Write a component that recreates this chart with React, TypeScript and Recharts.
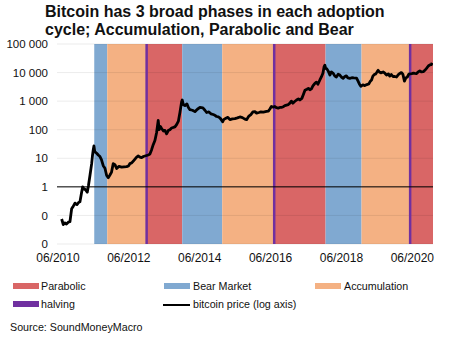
import { Line, LineChart, ReferenceArea, ReferenceLine, XAxis, YAxis } from 'recharts'

// time is in decimal years
const priceYears = [
  2010.521, 2010.544, 2010.567, 2010.614, 2010.657, 2010.708, 2010.755, 2010.803, 2010.84, 2010.897,
  2010.953, 2011.009, 2011.038, 2011.08, 2011.114, 2011.15, 2011.193, 2011.244, 2011.277, 2011.32,
  2011.368, 2011.39, 2011.413, 2011.432, 2011.455, 2011.509, 2011.554, 2011.602, 2011.644, 2011.695,
  2011.743, 2011.791, 2011.836, 2011.884, 2011.926, 2011.977, 2012.025, 2012.073, 2012.138, 2012.214,
  2012.279, 2012.355, 2012.406, 2012.448, 2012.504, 2012.561, 2012.637, 2012.682, 2012.73, 2012.778,
  2012.829, 2012.871, 2012.919, 2012.964, 2013.012, 2013.06, 2013.105, 2013.153, 2013.201, 2013.246,
  2013.272, 2013.308, 2013.342, 2013.393, 2013.435, 2013.483, 2013.534, 2013.576, 2013.624, 2013.675,
  2013.718, 2013.765, 2013.816, 2013.859, 2013.907, 2013.924, 2013.957, 2014.0, 2014.056, 2014.098,
  2014.141, 2014.211, 2014.282, 2014.352, 2014.423, 2014.507, 2014.564, 2014.612, 2014.676, 2014.733,
  2014.798, 2014.846, 2014.894, 2014.945, 2014.987, 2015.029, 2015.063, 2015.1, 2015.156, 2015.213,
  2015.269, 2015.34, 2015.41, 2015.481, 2015.551, 2015.622, 2015.692, 2015.74, 2015.805, 2015.861,
  2015.918, 2015.974, 2016.022, 2016.087, 2016.143, 2016.214, 2016.304, 2016.355, 2016.397, 2016.44,
  2016.49, 2016.538, 2016.581, 2016.631, 2016.679, 2016.735, 2016.777, 2016.821, 2016.868, 2016.919,
  2016.962, 2017.004, 2017.046, 2017.088, 2017.15, 2017.201, 2017.244, 2017.3, 2017.342, 2017.387,
  2017.443, 2017.484, 2017.526, 2017.57, 2017.611, 2017.667, 2017.709, 2017.752, 2017.808, 2017.85,
  2017.893, 2017.927, 2017.949, 2017.972, 2018.005, 2018.048, 2018.09, 2018.132, 2018.183, 2018.231,
  2018.273, 2018.324, 2018.372, 2018.414, 2018.465, 2018.513, 2018.555, 2018.597, 2018.654, 2018.71,
  2018.767, 2018.843, 2018.879, 2018.922, 2018.964, 2019.02, 2019.077, 2019.133, 2019.19, 2019.232,
  2019.266, 2019.303, 2019.345, 2019.387, 2019.43, 2019.452, 2019.486, 2019.528, 2019.593, 2019.641,
  2019.689, 2019.74, 2019.782, 2019.825, 2019.875, 2019.923, 2019.971, 2020.022, 2020.064, 2020.107,
  2020.149, 2020.194, 2020.234, 2020.276, 2020.318, 2020.355, 2020.403, 2020.445, 2020.488, 2020.53,
  2020.581, 2020.628, 2020.676, 2020.727, 2020.77, 2020.817, 2020.868, 2020.911, 2020.953, 2020.976,
]

const priceValues = [
  0.075, 0.06, 0.048, 0.055, 0.05, 0.058, 0.06, 0.17, 0.2, 0.27,
  0.24, 0.29, 0.3, 0.6, 1.0, 0.85, 0.8, 0.65, 1.1, 2.5,
  6.5, 12, 20, 27, 17, 15, 13, 11.5, 9, 5.5,
  4.5, 2.5, 2.1, 2.6, 3.2, 6.5, 6.0, 4.4, 5.2, 4.9,
  5.0, 5.1, 5.4, 6.5, 7.0, 8.5, 11, 12, 11, 10.5,
  11.5, 12, 12.5, 13, 14, 20, 30, 42, 80, 210,
  100, 130, 110, 90, 95, 72, 95, 100, 115, 120,
  125, 150, 200, 400, 950, 1100, 750, 700, 800, 600,
  500, 480, 430, 520, 600, 580, 480, 400, 420, 360,
  340, 320, 290, 280, 260, 220, 190, 230, 250, 270,
  225, 240, 245, 260, 280, 265, 235, 225, 300, 340,
  420, 430, 380, 400, 420, 415, 440, 450, 530, 650,
  620, 650, 590, 570, 600, 610, 640, 700, 730, 760,
  850, 1000, 850, 950, 1100, 1200, 1100, 1250, 1700, 2400,
  2600, 2800, 2500, 2700, 3400, 4200, 4600, 3900, 5500, 7000,
  9500, 16000, 18000, 14000, 13500, 11000, 8200, 10500, 9400, 7500,
  7000, 8800, 8200, 7000, 6300, 7300, 7700, 6500, 6300, 6600,
  6500, 6400, 5200, 4000, 3300, 3700, 3500, 3800, 4000, 5000,
  5500, 7500, 8500, 9000, 11000, 12000, 10500, 9800, 10500, 9500,
  8200, 9000, 7500, 8500, 7200, 7300, 7000, 8500, 9300, 10000,
  8800, 5000, 6500, 7000, 8800, 9000, 9200, 9500, 9300, 9200,
  10500, 11500, 10500, 10700, 12000, 14000, 17000, 18500, 19000, 22000,
]

const phaseNames = [
  'Bear Market', 'Accumulation', 'Parabolic',
  'Bear Market', 'Accumulation', 'Parabolic',
  'Bear Market', 'Accumulation', 'Parabolic',
]
const phaseStarts = [2011.441, 2011.808, 2012.919, 2013.923, 2015.052, 2016.519, 2017.969, 2018.984, 2020.355]
const phaseEnds = [2011.808, 2012.919, 2013.923, 2015.052, 2016.519, 2017.969, 2018.984, 2020.355, 2021.0]

const halvings = [2012.919, 2016.519, 2020.355]

const yTicks = [0.01, 0.1, 1, 10, 100, 1000, 10000, 100000]
const xTicks = [2010.417, 2012.417, 2014.417, 2016.417, 2018.417, 2020.417]

const phaseColors: Record<string, string> = {
  Parabolic: '#d96666',
  'Bear Market': '#80a9d1',
  Accumulation: '#f4b183',
}
const halvingColor = '#7030a0'

const data = priceYears.map((t, i) => ({ t, price: priceValues[i] }))

const font = '"Liberation Sans", Arial, sans-serif'

const fmtY = (v: number) => (v < 1 ? '0' : String(v).replace(/\B(?=(\d{3})+(?!\d))/g, ' '))
const fmtX = (v: number) => `06/${Math.floor(v)}`

function Box({ left, top, width, height, color }: { left: number; top: number; width: number; height: number; color: string }) {
  return <div style={{ position: 'absolute', left, top, width, height, background: color }} />
}

export default function App() {
  const legendText = { position: 'absolute' as const, fontSize: 10.7, lineHeight: '12px', color: '#111', whiteSpace: 'nowrap' as const }
  return (
    <div
      style={{
        position: 'absolute',
        left: 0,
        top: 0,
        width: 454,
        height: 341,
        background: '#fff',
        fontFamily: font,
        overflow: 'hidden',
      }}
    >
      <div
        style={{
          position: 'absolute',
          left: 45,
          top: 3,
          fontSize: 16,
          lineHeight: '18px',
          fontWeight: 'bold',
          color: '#111',
          whiteSpace: 'nowrap',
        }}
      >
        Bitcoin has 3 broad phases in each adoption
        <br />
        cycle; Accumulation, Parabolic and Bear
      </div>

      <div style={{ position: 'absolute', left: 0, top: 0 }}>
        <LineChart width={454} height={272} data={data} margin={{ top: 44, right: 21, bottom: 10, left: 0 }}>
          {phaseStarts.map((s, i) => (
            <ReferenceArea
              key={`p${i}`}
              x1={s}
              x2={phaseEnds[i]}
              fill={phaseColors[phaseNames[i]]}
              fillOpacity={1}
              stroke="none"
            />
          ))}
          {yTicks.map((v) => (
            <ReferenceLine key={`g${v}`} y={v} stroke="#000" strokeOpacity={0.08} strokeWidth={1} />
          ))}
          {halvings.map((h) => (
            <ReferenceLine key={`h${h}`} x={h} stroke={halvingColor} strokeWidth={2.5} />
          ))}
          <ReferenceLine y={1} stroke="#000" strokeWidth={1} />
          <XAxis
            type="number"
            dataKey="t"
            domain={[2010.39, 2021.0]}
            allowDataOverflow
            ticks={xTicks}
            interval={0}
            tickFormatter={fmtX}
            axisLine={false}
            tickLine={false}
            tickSize={0}
            tickMargin={9}
            height={18}
            tick={{ fill: '#111', fontSize: 12, fontFamily: font }}
          />
          <YAxis
            type="number"
            scale="log"
            domain={[0.01, 100000]}
            allowDataOverflow
            ticks={yTicks}
            interval={0}
            tickFormatter={fmtY}
            axisLine={false}
            tickLine={false}
            tickSize={0}
            tickMargin={9}
            width={57}
            tick={{ fill: '#111', fontSize: 11.5, fontFamily: font }}
          />
          <Line
            type="linear"
            dataKey="price"
            stroke="#000"
            strokeWidth={2.8}
            strokeLinejoin="round"
            dot={false}
            activeDot={false}
            isAnimationActive={false}
          />
        </LineChart>
      </div>

      <Box left={13} top={283} width={26} height={6} color={phaseColors.Parabolic} />
      <div style={{ ...legendText, left: 41, top: 280 }}>Parabolic</div>
      <Box left={164} top={283} width={26} height={6} color={phaseColors['Bear Market']} />
      <div style={{ ...legendText, left: 193, top: 280 }}>Bear Market</div>
      <Box left={315} top={283} width={26} height={6} color={phaseColors.Accumulation} />
      <div style={{ ...legendText, left: 344, top: 280 }}>Accumulation</div>

      <Box left={13} top={301} width={26} height={6} color={halvingColor} />
      <div style={{ ...legendText, left: 41, top: 298 }}>halving</div>
      <Box left={163} top={303.5} width={27} height={2} color="#000" />
      <div style={{ ...legendText, left: 193, top: 298 }}>bitcoin price (log axis)</div>

      <div style={{ ...legendText, left: 10, top: 321 }}>Source: SoundMoneyMacro</div>
    </div>
  )
}
